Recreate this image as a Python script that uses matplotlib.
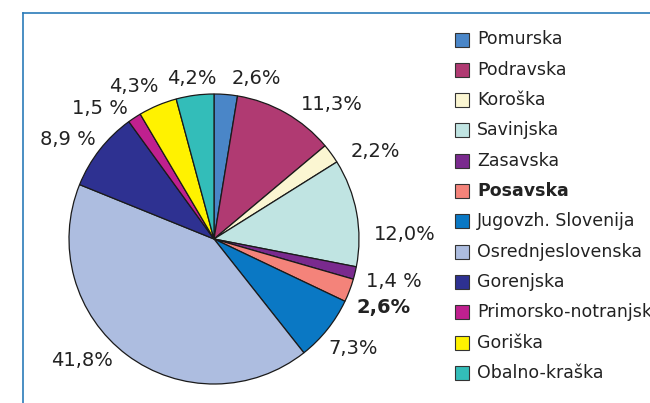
from matplotlib import pyplot as plt
from matplotlib.lines import Line2D
from matplotlib.patches import Rectangle
import numpy as np

# Regional shares (%), clockwise from the top
regions = ['Pomurska', 'Podravska', 'Koroška', 'Savinjska', 'Zasavska', 'Posavska',
           'Jugovzh. Slovenija', 'Osrednjeslovenska', 'Gorenjska', 'Primorsko-notranjska',
           'Goriška', 'Obalno-kraška']
shares = [2.6, 11.3, 2.2, 12.0, 1.4, 2.6, 7.3, 41.8, 8.9, 1.5, 4.3, 4.2]
share_labels = ['2,6%', '11,3%', '2,2%', '12,0%', '1,4 %', '2,6%', '7,3%', '41,8%',
                '8,9 %', '1,5 %', '4,3%', '4,2%']
highlight = 'Posavska'

colors = ['#4a86c8', '#b03a72', '#fbf6d2', '#c0e4e2', '#7a2a8e', '#f4837a',
          '#0a78c4', '#adbde0', '#2e3191', '#c0208f', '#fff200', '#33bdb9']

# label placement: angle nudge from wedge middle (deg) and distance (radius units)
label_nudge = [-10.3, -11.7, -7.5, -9.3, 0.3, -1.2, 0.3, -10.5, 3.8, 7.9, 5.0, 0.3]
label_dist = [1.143, 1.232, 1.264, 1.316, 1.272, 1.263, 1.221, 1.239, 1.218, 1.195, 1.189, 1.12]

W, H = 650, 403
fig = plt.figure(figsize=(W / 100, H / 100), dpi=100)
fig.patch.set_facecolor('white')

def fx(x):
    return x / W

def fy(y):
    return 1 - y / H

# blue frame (top and left edges visible)
frame_col = '#2b7bb9'
fig.add_artist(Line2D([fx(23), 1.0], [fy(13), fy(13)], color=frame_col, lw=1.2))
fig.add_artist(Line2D([fx(23), fx(23)], [fy(13), 0.0], color=frame_col, lw=1.2))

cx, cy, r = 214, 239, 145
ax = fig.add_axes([fx(cx - r), fy(cy + r), 2 * r / W, 2 * r / H])
wedges, _ = ax.pie(shares, colors=colors, startangle=90, counterclock=False,
                   wedgeprops=dict(edgecolor='#1a1a1a', linewidth=0.9))
ax.set_xlim(-1, 1)
ax.set_ylim(-1, 1)
ax.axis('off')

text_col = '#222222'
for i, w in enumerate(wedges):
    mid = np.deg2rad((w.theta1 + w.theta2) / 2 + label_nudge[i])
    d = label_dist[i]
    bold = regions[i] == highlight
    ax.text(d * np.cos(mid), d * np.sin(mid), share_labels[i], ha='center', va='center',
            fontsize=14, color=text_col, fontweight='bold' if bold else 'normal',
            family='DejaVu Sans')

# legend drawn by hand
y0, step = 39.5, 30.3
for i, name in enumerate(regions):
    yc = y0 + i * step
    fig.add_artist(Rectangle((fx(455), fy(yc + 7)), 14 / W, 14 / H,
                             facecolor=colors[i], edgecolor='#333333', lw=0.8))
    bold = name == highlight
    fig.text(fx(477), fy(yc), name, ha='left', va='center', fontsize=12.5,
             color=text_col, fontweight='bold' if bold else 'normal', family='DejaVu Sans')

fig.savefig('out.png', dpi=100)
